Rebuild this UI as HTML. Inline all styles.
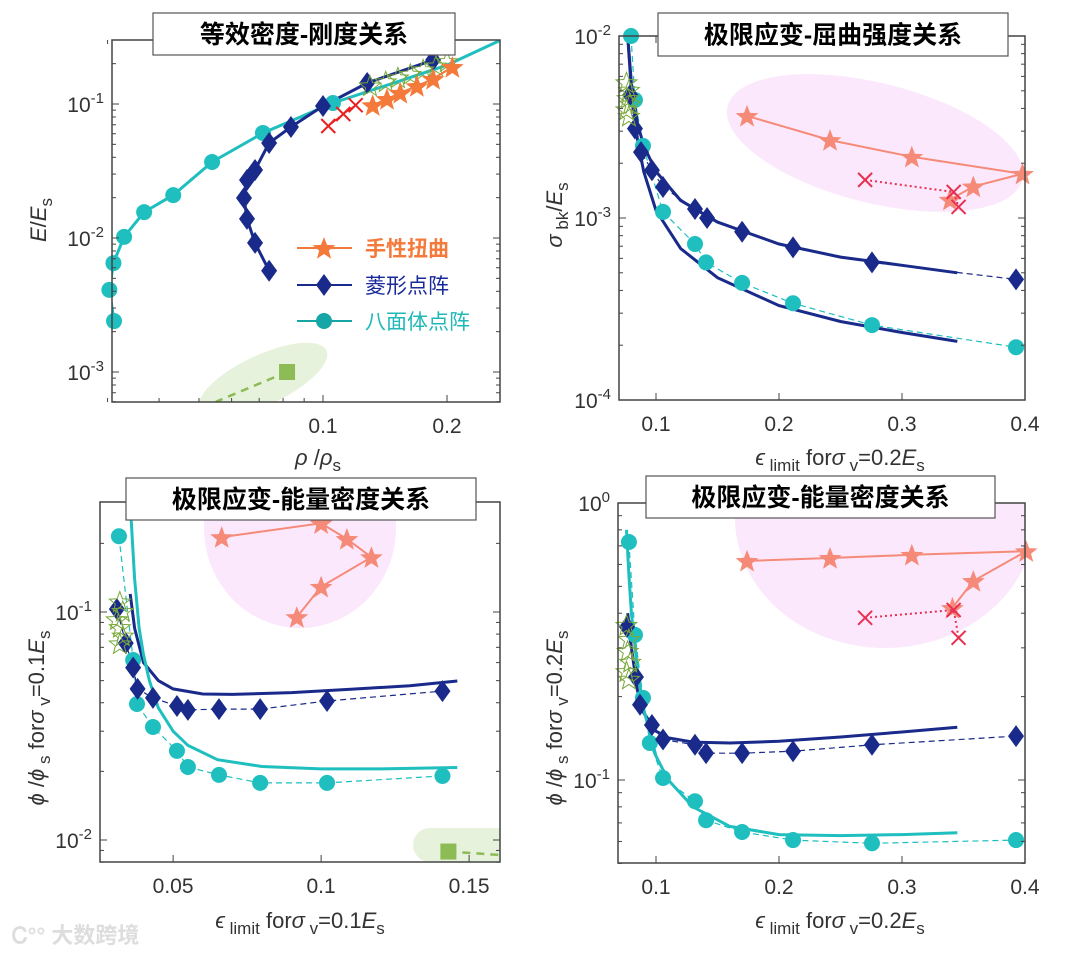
<!DOCTYPE html>
<html><head><meta charset="utf-8">
<style>
html,body{margin:0;padding:0;background:#fff;}
svg{display:block;font-family:"Liberation Sans","Noto Sans CJK SC",sans-serif;}
.tk{font-size:21px;fill:#333;}
.ttl{font-size:25px;font-weight:bold;fill:#000;font-family:"Liberation Sans","Noto Sans CJK SC",sans-serif;}
</style></head>
<body>
<svg id="chart" width="1080" height="953" viewBox="0 0 1080 953" xmlns="http://www.w3.org/2000/svg">
<defs>
<clipPath id="c1"><rect x="112" y="40" width="388" height="362"/></clipPath>
<clipPath id="c2"><rect x="619" y="36" width="406" height="364"/></clipPath>
<clipPath id="c3"><rect x="100" y="502" width="400" height="360"/></clipPath>
<clipPath id="c4"><rect x="618" y="503" width="407" height="360"/></clipPath>
</defs>
<g id="root"></g>
</svg>
<script>
// ---------- Panel 1 data: density vs stiffness ----------
const p1OctX = [0.0311,0.0303,0.0310,0.0329,0.0368,0.0433,0.0538,0.0715,0.1057];
const p1OctY = [0.0024,0.0041,0.0065,0.0102,0.0156,0.0209,0.0369,0.0608,0.1017];
const p1OctFitX = [0.0311,0.0303,0.0310,0.0329,0.0368,0.0433,0.0538,0.0715,0.1057,0.15,0.2,0.27];
const p1OctFitY = [0.0024,0.0041,0.0065,0.0102,0.0156,0.0209,0.0369,0.0608,0.1017,0.145,0.195,0.30];
const p1DiaX = [0.0740,0.0684,0.0654,0.0643,0.0654,0.0684,0.0740,0.0836,0.1,0.128,0.185];
const p1DiaY = [0.0057,0.0092,0.0139,0.0199,0.0271,0.0322,0.0512,0.0673,0.0967,0.1435,0.213];
const p1StarX = [0.132,0.143,0.154,0.169,0.185,0.206];
const p1StarY = [0.098,0.109,0.121,0.136,0.154,0.189];
const p1CrossX = [0.103,0.112,0.120];
const p1CrossY = [0.0685,0.0842,0.098];
const p1GreenX = [0.13,0.142,0.152,0.163,0.175,0.188,0.2];
const p1GreenY = [0.135,0.145,0.155,0.165,0.178,0.19,0.205];
const p1SqX = [0.0818]; const p1SqY = [0.001];
const p1Ticks = {x:[0.1,0.2], xl:["0.1","0.2"], y:[0.001,0.01,0.1], ye:["-3","-2","-1"]};

// ---------- Panel 2 data: strain vs buckling ----------
const p2OctX = [0.0797,0.0829,0.0894,0.1057,0.1317,0.1407,0.170,0.2114,0.2756,0.3927];
const p2OctY = [0.01,0.00445,0.00249,0.00108,0.00072,0.00057,0.00044,0.00034,0.000258,0.000195];
const p2DiaX = [0.079,0.0829,0.0878,0.0967,0.1057,0.1317,0.1415,0.170,0.2114,0.2756,0.3927];
const p2DiaY = [0.00474,0.0031,0.0023,0.00183,0.00148,0.00112,0.001,0.00084,0.00069,0.00057,0.00046];
const p2FitX = [0.077,0.08,0.085,0.09,0.1,0.12,0.15,0.2,0.25,0.3,0.345];
const p2FitUpY = [0.0100,0.0055,0.0033,0.0025,0.0018,0.00125,0.00095,0.00072,0.00061,0.00055,0.0005];
const p2FitLoY = [0.0100,0.005,0.0027,0.0018,0.0011,0.00068,0.00047,0.00033,0.00027,0.000235,0.00021];
const p2StarX = [0.174,0.2415,0.308,0.398,0.358,0.339];
const p2StarY = [0.00364,0.00268,0.00217,0.00175,0.00149,0.00126];
const p2CrossX = [0.27,0.342,0.346];
const p2CrossY = [0.00162,0.00139,0.00115];
const p2GreenX = [0.076,0.078,0.077,0.079,0.076,0.078];
const p2GreenY = [0.0055,0.005,0.0045,0.0042,0.0039,0.0036];
const p2Ticks = {x:[0.1,0.2,0.3,0.4], xl:["0.1","0.2","0.3","0.4"], y:[0.0001,0.001,0.01], ye:["-4","-3","-2"]};

// ---------- Panel 3 data: strain vs energy (0.1Es) ----------
const p3OctX = [0.0317,0.0365,0.0378,0.0432,0.0513,0.055,0.0655,0.0794,0.102,0.141];
const p3OctY = [0.215,0.0616,0.0395,0.0313,0.0246,0.0209,0.0193,0.0178,0.0178,0.0191];
const p3DiaX = [0.031,0.034,0.0365,0.038,0.0432,0.0513,0.055,0.0655,0.0794,0.102,0.141];
const p3DiaY = [0.103,0.073,0.057,0.046,0.042,0.0387,0.0372,0.0375,0.0375,0.0407,0.045];
const p3FitDX = [0.0355,0.037,0.04,0.045,0.05,0.06,0.07,0.09,0.11,0.13,0.146];
const p3FitDY = [0.12,0.085,0.06,0.05,0.046,0.0437,0.0435,0.0443,0.0458,0.0475,0.0498];
const p3FitCX = [0.0355,0.037,0.0385,0.04,0.042,0.045,0.05,0.055,0.065,0.08,0.1,0.12,0.146];
const p3FitCY = [0.3,0.14,0.085,0.065,0.05,0.038,0.03,0.026,0.0225,0.021,0.0205,0.0205,0.0208];
const p3StarX = [0.0664,0.100,0.1087,0.117,0.100,0.0918];
const p3StarY = [0.213,0.245,0.209,0.174,0.129,0.095];
const p3GreenX = [0.032,0.033,0.031,0.032,0.033,0.032];
const p3GreenY = [0.11,0.1,0.092,0.085,0.078,0.072];
const p3SqX = [0.143]; const p3SqY = [0.0089];
const p3Ticks = {x:[0.05,0.1,0.15], xl:["0.05","0.1","0.15"], y:[0.01,0.1], ye:["-2","-1"]};

// ---------- Panel 4 data: strain vs energy (0.2Es) ----------
const p4OctX = [0.078,0.0829,0.0894,0.095,0.1057,0.1317,0.1407,0.170,0.2114,0.2756,0.3927];
const p4OctY = [0.723,0.334,0.198,0.136,0.1017,0.0838,0.0716,0.0649,0.0607,0.0591,0.0607];
const p4DiaX = [0.0764,0.0837,0.087,0.0967,0.1057,0.1317,0.1407,0.170,0.2114,0.2756,0.3927];
const p4DiaY = [0.357,0.2355,0.187,0.158,0.14,0.134,0.125,0.125,0.127,0.134,0.144];
const p4FitDX = [0.077,0.08,0.085,0.09,0.1,0.11,0.13,0.16,0.2,0.25,0.3,0.345];
const p4FitDY = [0.4,0.3,0.21,0.175,0.15,0.142,0.137,0.136,0.138,0.143,0.149,0.155];
const p4FitCX = [0.076,0.078,0.08,0.085,0.09,0.1,0.11,0.13,0.16,0.2,0.25,0.3,0.345];
const p4FitCY = [0.8,0.55,0.4,0.25,0.18,0.122,0.1,0.08,0.068,0.0635,0.063,0.0635,0.0645];
const p4StarX = [0.174,0.2415,0.308,0.401,0.358,0.341];
const p4StarY = [0.618,0.633,0.65,0.67,0.523,0.418];
const p4CrossX = [0.27,0.342,0.346];
const p4CrossY = [0.385,0.411,0.326];
const p4GreenX = [0.076,0.078,0.077,0.079,0.076,0.078];
const p4GreenY = [0.36,0.32,0.29,0.265,0.245,0.23];
const p4Ticks = {x:[0.1,0.2,0.3,0.4], xl:["0.1","0.2","0.3","0.4"], y:[0.1,1], ye:["-1","0"]};

const NS = "http://www.w3.org/2000/svg";
const root = document.getElementById('root');
const CY = "#1fbfbf", NV = "#1a2a8a", GR = "#7aa83a";
function mk(tag, attrs, parent) {
  const e = document.createElementNS(NS, tag);
  for (const k in attrs) e.setAttribute(k, attrs[k]);
  (parent || root).appendChild(e);
  return e;
}
function starPath(cx, cy, R) {
  let d = "";
  for (let i = 0; i < 10; i++) {
    const r = i % 2 ? R * 0.42 : R;
    const a = -Math.PI / 2 + i * Math.PI / 5;
    d += (i ? "L" : "M") + (cx + r * Math.cos(a)).toFixed(1) + " " + (cy + r * Math.sin(a)).toFixed(1);
  }
  return d + "Z";
}
function line(g, xs, ys, sx, sy, attrs, name) {
  const pts = xs.map((x, i) => sx(x).toFixed(1) + "," + sy(ys[i]).toFixed(1)).join(" ");
  const e = mk('polyline', Object.assign({points: pts, fill: 'none'}, attrs), g);
  
  
  return e;
}
function markers(g, xs, ys, sx, sy, kind, color, name) {
  xs.forEach((x, i) => {
    const X = sx(x), Y = sy(ys[i]);
    let e;
    if (kind === 'circle') e = mk('circle', {cx: X, cy: Y, r: 8, fill: color}, g);
    else if (kind === 'diamond') e = mk('path', {d: `M${X} ${Y-11}L${X+8} ${Y}L${X} ${Y+11}L${X-8} ${Y}Z`, fill: color}, g);
    else if (kind === 'star') e = mk('path', {d: starPath(X, Y+1, 12), fill: color}, g);
    else if (kind === 'hstar') e = mk('path', {d: starPath(X, Y, 11), fill: 'none', stroke: GR, 'stroke-width': 1}, g);
    else if (kind === 'cross') e = mk('path', {d: `M${X-7} ${Y-7}L${X+7} ${Y+7}M${X+7} ${Y-7}L${X-7} ${Y+7}`, stroke: color, 'stroke-width': 2, fill: 'none'}, g);
    else if (kind === 'square') e = mk('rect', {x: X-8, y: Y-8, width: 16, height: 16, fill: color}, g);
    
    
  });
}
function axes(box, sx, sy, ticks, logX, xr, yr, name) {
  const [L, T, R, B] = box;
  const g = mk('g', {});
  
  
  mk('rect', {x: L, y: T, width: R-L, height: B-T, fill: 'none', stroke: '#444', 'stroke-width': 1.5}, g);
  for (let d = Math.floor(Math.log10(yr[0])); d <= Math.ceil(Math.log10(yr[1])); d++) {
    for (let m = 1; m < 10; m++) {
      const v = m * Math.pow(10, d);
      if (v < yr[0] || v > yr[1]) continue;
      const Y = sy(v), len = m === 1 ? 7 : 4;
      mk('line', {x1: L, x2: L+len, y1: Y, y2: Y, stroke: '#444'}, g);
      mk('line', {x1: R, x2: R-len, y1: Y, y2: Y, stroke: '#444'}, g);
    }
  }
  ticks.y.forEach((v, i) => {
    const t = mk('text', {x: L-8, y: sy(v)+8, 'text-anchor': 'end', class: 'tk'}, g);
    t.innerHTML = `10<tspan dy="-9" font-size="15">${ticks.ye[i]}</tspan>`;
    
    
  });
  if (logX) {
    for (let m = 3; m <= 9; m++) { const X = sx(m/100); mk('line', {x1: X, x2: X, y1: B, y2: B-4, stroke: '#444'}, g); mk('line', {x1: X, x2: X, y1: T, y2: T+4, stroke: '#444'}, g); }
  }
  ticks.x.forEach((v, i) => {
    const X = sx(v);
    mk('line', {x1: X, x2: X, y1: B, y2: B-7, stroke: '#444'}, g);
    mk('line', {x1: X, x2: X, y1: T, y2: T+7, stroke: '#444'}, g);
    const t = mk('text', {x: X, y: B+31, 'text-anchor': 'middle', class: 'tk'}, g);
    t.textContent = ticks.xl[i];
    
    
  });
}
function title(x, y, w, h, txt, name) {
  const g = mk('g', {});
  
  
  mk('rect', {x, y, width: w, height: h, fill: '#fff', stroke: '#555', 'stroke-width': 1.2}, g);
  const t = mk('text', {x: x + w/2, y: y + h/2 + 9, 'text-anchor': 'middle', class: 'ttl'}, g);
  t.textContent = txt;
}
function txt(x, y, html, attrs, name) {
  const t = mk('text', Object.assign({x, y, 'font-size': 22, fill: '#333'}, attrs || {}));
  t.innerHTML = html;
  
  
  return t;
}
function grp(clip, name) {
  const g = mk('g', clip ? {'clip-path': clip} : {});
  
  
  return g;
}

// ---------- Panel 1 ----------
{
  const sx = v => 323 + 412 * Math.log10(v / 0.1);
  const sy = v => 104 - 134 * Math.log10(v / 0.1);
  const g = grp('url(#c1)', 'panel-density-stiffness');
  const m = grp(null, 'panel1-markers');
  mk('ellipse', {cx: 263, cy: 380, rx: 70, ry: 25, transform: 'rotate(-25 263 380)', fill: '#e6f2dc'}, g);
  line(g, [0.0818, 0.055], [0.001, 0.0006], sx, sy, {stroke: '#8dbb55', 'stroke-width': 2.5, 'stroke-dasharray': '8 6'}, 'green-dashed-line');
  markers(m, p1SqX, p1SqY, sx, sy, 'square', '#8dbb55', 'green-square');
  line(g, p1OctFitX, p1OctFitY, sx, sy, {stroke: CY, 'stroke-width': 3}, 'octahedral-line');
  line(g, p1DiaX, p1DiaY, sx, sy, {stroke: NV, 'stroke-width': 3}, 'rhombic-line');
  markers(m, p1OctX, p1OctY, sx, sy, 'circle', CY, 'octahedral-point');
  markers(m, p1DiaX, p1DiaY, sx, sy, 'diamond', NV, 'rhombic-point');
  markers(m, p1GreenX, p1GreenY, sx, sy, 'hstar', GR, 'green-star');
  line(m, p1CrossX, p1CrossY, sx, sy, {stroke: '#e82020', 'stroke-width': 1.5}, 'cross-line');
  markers(m, p1CrossX, p1CrossY, sx, sy, 'cross', '#e82020', 'red-cross');
  line(m, p1StarX, p1StarY, sx, sy, {stroke: '#f47a3c', 'stroke-width': 2}, 'chiral-line');
  markers(m, p1StarX, p1StarY, sx, sy, 'star', '#f47a3c', 'chiral-star');
  axes([112, 40, 500, 402], sx, sy, p1Ticks, true, [], [0.0006, 0.3], 'axes-panel1');
  const lg = grp(null, 'legend');
  const rows = [['star', '#f47a3c', '#f47a3c', '手性扭曲', 248], ['diamond', NV, NV, '菱形点阵', 285], ['circle', '#16a6a6', CY, '八面体点阵', 321]];
  rows.forEach(r => {
    mk('line', {x1: 297, x2: 352, y1: r[4], y2: r[4], stroke: r[1], 'stroke-width': 2}, lg);
    markers(lg, [0], [0], () => 324, () => r[4], r[0], r[1], 'legend-marker');
    const t = mk('text', {x: 365, y: r[4] + 8, 'font-size': 21, fill: r[0] === 'star' ? '#f47a3c' : (r[0] === 'diamond' ? '#1a2a9a' : '#20b8b8'), 'font-weight': r[0] === 'star' ? 'bold' : 'normal'}, lg);
    t.textContent = r[3];
    
    
  });
  title(153, 13, 302, 42, '等效密度-刚度关系', 'title-panel1');
  txt(46, 220, '<tspan font-style="italic">E</tspan>/<tspan font-style="italic">E</tspan><tspan dy="6" font-size="17">s</tspan>', {transform: 'rotate(-90 46 220)', 'text-anchor': 'middle'}, 'y-axis-title-panel1');
  txt(318, 465, '<tspan font-style="italic">ρ</tspan> /<tspan font-style="italic">ρ</tspan><tspan dy="6" font-size="17">s</tspan>', {'text-anchor': 'middle'}, 'x-axis-title-panel1');
}

// ---------- Panel 2 ----------
{
  const sx = v => 656 + 1230 * (v - 0.1);
  const sy = v => 36 - 182 * Math.log10(v / 0.01);
  const g = grp('url(#c2)', 'panel-strain-buckling');
  const m = grp(null, 'panel2-markers');
  mk('ellipse', {cx: 875, cy: 143, rx: 152, ry: 60, transform: 'rotate(14 875 143)', fill: '#fce8fc'}, g);
  line(g, p2OctX, p2OctY, sx, sy, {stroke: CY, 'stroke-width': 1.2, 'stroke-dasharray': '6 4'}, 'octahedral-dashed');
  line(g, p2DiaX, p2DiaY, sx, sy, {stroke: NV, 'stroke-width': 1.2, 'stroke-dasharray': '6 4'}, 'rhombic-dashed');
  line(g, p2FitX, p2FitUpY, sx, sy, {stroke: NV, 'stroke-width': 3}, 'fit-upper');
  line(g, p2FitX, p2FitLoY, sx, sy, {stroke: NV, 'stroke-width': 3}, 'fit-lower');
  markers(m, p2OctX, p2OctY, sx, sy, 'circle', CY, 'octahedral-point');
  markers(m, p2DiaX, p2DiaY, sx, sy, 'diamond', NV, 'rhombic-point');
  markers(m, p2GreenX, p2GreenY, sx, sy, 'hstar', GR, 'green-star');
  line(m, p2StarX, p2StarY, sx, sy, {stroke: '#f58a78', 'stroke-width': 2}, 'chiral-line');
  markers(m, p2StarX, p2StarY, sx, sy, 'star', '#f58a78', 'chiral-star');
  line(m, p2CrossX, p2CrossY, sx, sy, {stroke: '#e83050', 'stroke-width': 2, 'stroke-dasharray': '2 3'}, 'cross-line');
  markers(m, p2CrossX, p2CrossY, sx, sy, 'cross', '#e83050', 'red-cross');
  axes([619, 36, 1025, 400], sx, sy, p2Ticks, false, [], [0.0001, 0.01], 'axes-panel2');
  title(658, 13, 350, 43, '极限应变-屈曲强度关系', 'title-panel2');
  txt(562, 215, '<tspan font-style="italic">σ</tspan><tspan dy="6" font-size="17"> bk</tspan><tspan dy="-6">/</tspan><tspan font-style="italic">E</tspan><tspan dy="6" font-size="17">s</tspan>', {transform: 'rotate(-90 562 215)', 'text-anchor': 'middle'}, 'y-axis-title-panel2');
  txt(840, 465, '<tspan font-style="italic">ϵ</tspan><tspan dy="6" font-size="17"> limit</tspan><tspan dy="-6"> for</tspan><tspan font-style="italic">σ</tspan><tspan dy="6" font-size="17"> v</tspan><tspan dy="-6">=0.2</tspan><tspan font-style="italic">E</tspan><tspan dy="6" font-size="17">s</tspan>', {'text-anchor': 'middle'}, 'x-axis-title-panel2');
}

// ---------- Panel 3 ----------
{
  const sx = v => 100 + 2960 * (v - 0.0253);
  const sy = v => 612 - 228 * Math.log10(v / 0.1);
  const g = grp('url(#c3)', 'panel-strain-energy-01');
  const m = grp(null, 'panel3-markers');
  mk('ellipse', {cx: 300, cy: 528, rx: 96, ry: 100, fill: '#fce8fc'}, g);
  mk('rect', {x: 413, y: 828, width: 110, height: 34, rx: 17, fill: '#e6f2dc'}, g);
  line(g, [0.143, 0.16], [0.0089, 0.0086], sx, sy, {stroke: '#8dbb55', 'stroke-width': 2.5, 'stroke-dasharray': '8 6'}, 'green-dashed-line');
  markers(m, p3SqX, p3SqY, sx, sy, 'square', '#8dbb55', 'green-square');
  line(g, p3OctX, p3OctY, sx, sy, {stroke: CY, 'stroke-width': 1.2, 'stroke-dasharray': '6 4'}, 'octahedral-dashed');
  line(g, p3DiaX, p3DiaY, sx, sy, {stroke: NV, 'stroke-width': 1.2, 'stroke-dasharray': '6 4'}, 'rhombic-dashed');
  line(g, p3FitDX, p3FitDY, sx, sy, {stroke: NV, 'stroke-width': 3}, 'rhombic-fit');
  line(g, p3FitCX, p3FitCY, sx, sy, {stroke: CY, 'stroke-width': 3}, 'octahedral-fit');
  markers(m, p3OctX, p3OctY, sx, sy, 'circle', CY, 'octahedral-point');
  markers(m, p3DiaX, p3DiaY, sx, sy, 'diamond', NV, 'rhombic-point');
  markers(m, p3GreenX, p3GreenY, sx, sy, 'hstar', GR, 'green-star');
  line(m, p3StarX, p3StarY, sx, sy, {stroke: '#f58a78', 'stroke-width': 2}, 'chiral-line');
  markers(m, p3StarX, p3StarY, sx, sy, 'star', '#f58a78', 'chiral-star');
  axes([100, 502, 500, 862], sx, sy, p3Ticks, false, [], [0.008, 0.3], 'axes-panel3');
  title(126, 478, 350, 42, '极限应变-能量密度关系', 'title-panel3');
  txt(44, 718, '<tspan font-style="italic">ϕ</tspan> /<tspan font-style="italic">ϕ</tspan><tspan dy="6" font-size="17"> s</tspan><tspan dy="-6"> for</tspan><tspan font-style="italic">σ</tspan><tspan dy="6" font-size="17"> v</tspan><tspan dy="-6">=0.1</tspan><tspan font-style="italic">E</tspan><tspan dy="6" font-size="17">s</tspan>', {transform: 'rotate(-90 44 718)', 'text-anchor': 'middle'}, 'y-axis-title-panel3');
  txt(300, 928, '<tspan font-style="italic">ϵ</tspan><tspan dy="6" font-size="17"> limit</tspan><tspan dy="-6"> for</tspan><tspan font-style="italic">σ</tspan><tspan dy="6" font-size="17"> v</tspan><tspan dy="-6">=0.1</tspan><tspan font-style="italic">E</tspan><tspan dy="6" font-size="17">s</tspan>', {'text-anchor': 'middle'}, 'x-axis-title-panel3');
}

// ---------- Panel 4 ----------
{
  const sx = v => 656 + 1230 * (v - 0.1);
  const sy = v => 503 - 277 * Math.log10(v);
  const g = grp('url(#c4)', 'panel-strain-energy-02');
  const m = grp(null, 'panel4-markers');
  mk('ellipse', {cx: 885, cy: 518, rx: 150, ry: 130, fill: '#fce8fc'}, g);
  line(g, p4OctX, p4OctY, sx, sy, {stroke: CY, 'stroke-width': 1.2, 'stroke-dasharray': '6 4'}, 'octahedral-dashed');
  line(g, p4DiaX, p4DiaY, sx, sy, {stroke: NV, 'stroke-width': 1.2, 'stroke-dasharray': '6 4'}, 'rhombic-dashed');
  line(g, p4FitDX, p4FitDY, sx, sy, {stroke: NV, 'stroke-width': 3}, 'rhombic-fit');
  line(g, p4FitCX, p4FitCY, sx, sy, {stroke: CY, 'stroke-width': 3}, 'octahedral-fit');
  markers(m, p4OctX, p4OctY, sx, sy, 'circle', CY, 'octahedral-point');
  markers(m, p4DiaX, p4DiaY, sx, sy, 'diamond', NV, 'rhombic-point');
  markers(m, p4GreenX, p4GreenY, sx, sy, 'hstar', GR, 'green-star');
  line(m, p4StarX, p4StarY, sx, sy, {stroke: '#f58a78', 'stroke-width': 2}, 'chiral-line');
  markers(m, p4StarX, p4StarY, sx, sy, 'star', '#f58a78', 'chiral-star');
  line(m, p4CrossX, p4CrossY, sx, sy, {stroke: '#e83050', 'stroke-width': 2, 'stroke-dasharray': '2 3'}, 'cross-line');
  markers(m, p4CrossX, p4CrossY, sx, sy, 'cross', '#e83050', 'red-cross');
  axes([618, 503, 1025, 863], sx, sy, p4Ticks, false, [], [0.05, 1], 'axes-panel4');
  title(646, 476, 349, 42, '极限应变-能量密度关系', 'title-panel4');
  txt(562, 718, '<tspan font-style="italic">ϕ</tspan> /<tspan font-style="italic">ϕ</tspan><tspan dy="6" font-size="17"> s</tspan><tspan dy="-6"> for</tspan><tspan font-style="italic">σ</tspan><tspan dy="6" font-size="17"> v</tspan><tspan dy="-6">=0.2</tspan><tspan font-style="italic">E</tspan><tspan dy="6" font-size="17">s</tspan>', {transform: 'rotate(-90 562 718)', 'text-anchor': 'middle'}, 'y-axis-title-panel4');
  txt(840, 928, '<tspan font-style="italic">ϵ</tspan><tspan dy="6" font-size="17"> limit</tspan><tspan dy="-6"> for</tspan><tspan font-style="italic">σ</tspan><tspan dy="6" font-size="17"> v</tspan><tspan dy="-6">=0.2</tspan><tspan font-style="italic">E</tspan><tspan dy="6" font-size="17">s</tspan>', {'text-anchor': 'middle'}, 'x-axis-title-panel4');
}
// watermark
txt(12, 943, 'Ꮯ°° 大数跨境', {'font-size': 22, fill: '#ddd', 'font-weight': 'bold'}, 'watermark');
</script>
</body></html>
